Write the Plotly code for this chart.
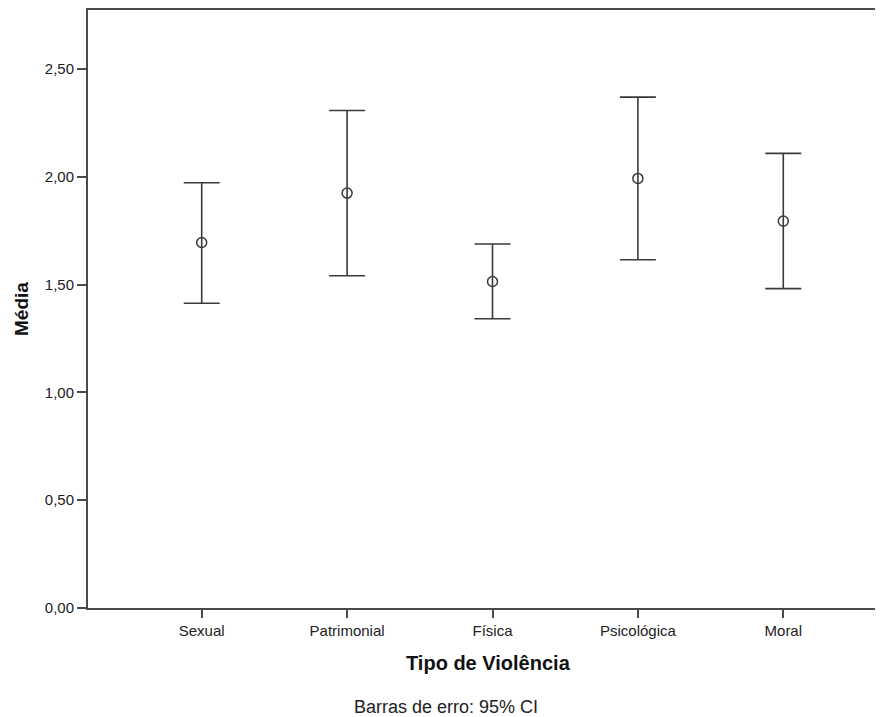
import plotly.graph_objects as go

categories = ["Sexual", "Patrimonial", "Física", "Psicológica", "Moral"]
means = [1.695, 1.924, 1.514, 1.992, 1.794]
ci_upper = [1.972, 2.307, 1.688, 2.369, 2.108]
ci_lower = [1.413, 1.541, 1.341, 1.615, 1.481]
y_ticks = [0, 0.5, 1.0, 1.5, 2.0, 2.5]

err_plus = [u - m for u, m in zip(ci_upper, means)]
err_minus = [m - l for m, l in zip(means, ci_lower)]
xpos = list(range(len(categories)))

col = "#3a3a3a"
axcol = "#4a4a4a"
fig = go.Figure()
fig.add_trace(go.Scatter(
    x=xpos, y=means, mode="markers",
    marker=dict(symbol="circle-open", size=10, color=col, line=dict(width=1.5, color=col)),
    error_y=dict(type="data", symmetric=False, array=err_plus, arrayminus=err_minus,
                 color=col, thickness=1.6, width=18),
    showlegend=False,
))

fig.update_layout(
    width=875, height=709,
    margin=dict(l=80, r=2, t=0, b=109),
    paper_bgcolor="white", plot_bgcolor="white",
    separators=",.",
    font=dict(family="Liberation Sans, Arial, sans-serif", color="#222"),
    xaxis=dict(
        range=[-0.782, 4.672], tickmode="array", tickvals=xpos, ticktext=categories,
        showgrid=False, zeroline=False, showline=True, linecolor=axcol, linewidth=2,
        mirror=True, ticks="outside", ticklen=8, tickwidth=2, tickcolor=axcol,
        tickfont=dict(size=15, color="#222"),
    ),
    yaxis=dict(
        range=[0, 2.773], tickmode="array", tickvals=y_ticks, tickformat=".2f",
        showgrid=False, zeroline=False, showline=True, linecolor=axcol, linewidth=2,
        ticks="outside", ticklen=9, tickwidth=2, tickcolor=axcol,
        tickfont=dict(size=15, color="#222"),
    ),
    annotations=[
        dict(text="<b>Tipo de Violência</b>", x=0.505, y=-0.0917, xref="paper", yref="paper",
             xanchor="center", yanchor="middle", showarrow=False,
             font=dict(size=20, color="#111")),
        dict(text="<b>Média</b>", x=-0.0845, y=0.5, xref="paper", yref="paper",
             xanchor="center", yanchor="middle", showarrow=False, textangle=-90,
             font=dict(size=19, color="#111")),
        dict(text="Barras de erro: 95% CI", x=0.4515, y=-0.165, xref="paper", yref="paper",
             xanchor="center", yanchor="middle", showarrow=False,
             font=dict(size=18, color="#222")),
    ],
)

fig.write_html("out.html")
